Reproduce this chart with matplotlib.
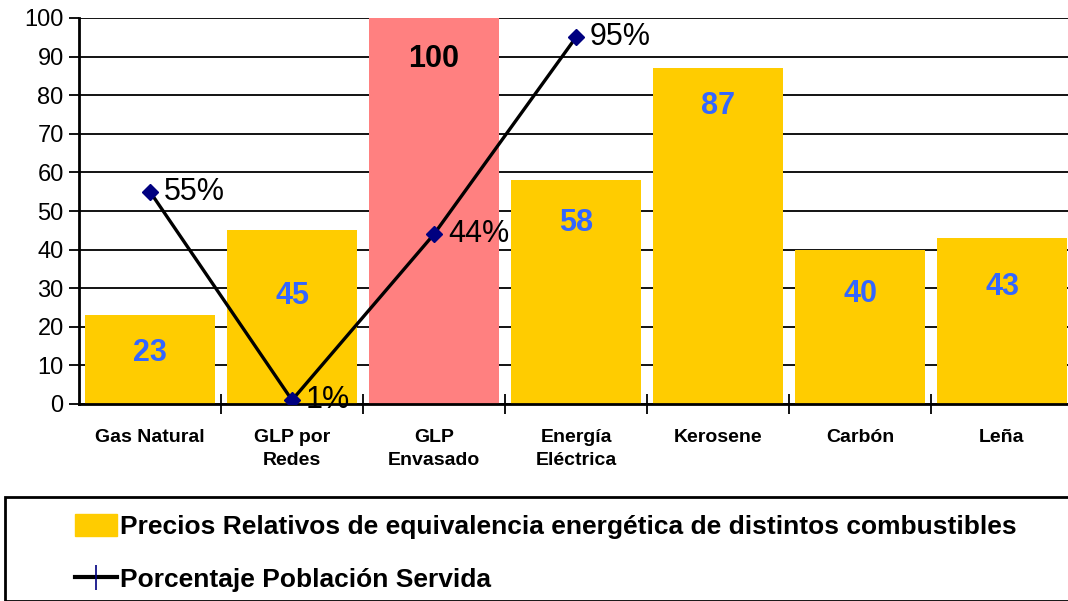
import matplotlib.pyplot as plt
from matplotlib.lines import Line2D
from matplotlib.patches import Patch, Rectangle

plt.rcParams['font.family'] = ['Liberation Sans', 'DejaVu Sans']

# categories and values
categorias = ['Gas Natural', 'GLP por\nRedes', 'GLP\nEnvasado', 'Energía\nEléctrica',
              'Kerosene', 'Carbón', 'Leña']
precios = [23, 45, 100, 58, 87, 40, 43]
poblacion = [55, 1, 44, 95]   # % poblacion servida, first four fuels only
etiqueta_precios = 'Precios Relativos de equivalencia energética de distintos combustibles'
etiqueta_poblacion = 'Porcentaje Población Servida'

# how far below each bar top the value label sits (pixels)
bajada = [38, 66, 41, 43, 38, 44, 49]

amarillo = '#FFCC00'
rosa = '#FF8080'
colores = [rosa if v == max(precios) else amarillo for v in precios]

fig = plt.figure(figsize=(10.68, 6.01), dpi=100)
ax = fig.add_axes([79 / 1068, 1 - 404 / 601, 994 / 1068, 386 / 601])

x = list(range(len(categorias)))
ax.bar(x, precios, width=0.92, color=colores, zorder=2)

for xi, v, d in zip(x, precios, bajada):
    c = 'black' if v == max(precios) else '#3366FF'
    ax.annotate(str(v), (xi, v), xytext=(0, -d), textcoords='offset pixels',
                ha='center', va='center', fontsize=22, fontweight='bold', color=c, zorder=4)

xp = x[:len(poblacion)]
ax.plot(xp, poblacion, color='black', lw=2.4, zorder=3)
ax.plot(xp, poblacion, ls='none', marker='D', ms=8, color='#000080', zorder=4)
for xi, p in zip(xp, poblacion):
    ax.annotate(f'{p}%', (xi, p), xytext=(14, 0), textcoords='offset pixels',
                ha='left', va='center', fontsize=22, zorder=5)

ax.set_xlim(-0.5, len(categorias) - 0.5)
ax.set_ylim(0, 100)
ax.set_yticks(range(0, 101, 10))
ax.yaxis.grid(True, color='black', lw=1.3, zorder=0)
ax.set_axisbelow(True)
ax.set_xticks([i + 0.5 for i in x[:-1]], minor=False)
ax.set_xticklabels([])
ax.set_xticks(x, minor=True)
ax.set_xticklabels(categorias, minor=True, fontsize=14, fontweight='bold', linespacing=1.45)
ax.tick_params(axis='x', which='minor', length=0, pad=18)
ax.tick_params(axis='x', which='major', direction='inout', length=14, width=1.3)
ax.tick_params(axis='y', direction='out', length=7, width=1.3, labelsize=17, pad=4)
for s in ['top', 'right']:
    ax.spines[s].set_visible(False)
for s in ['left', 'bottom']:
    ax.spines[s].set_linewidth(2)

# legend box across the bottom
fig.patches.append(Rectangle((5 / 1068, 0), 1.1, 1 - 497 / 601, transform=fig.transFigure,
                             fill=False, edgecolor='black', lw=2))
handles = [Patch(color=amarillo),
           Line2D([], [], color='black', lw=3, marker='|', ms=18, mec='#000080', mew=1.2)]
fig.legend(handles, [etiqueta_precios, etiqueta_poblacion], loc='upper left',
           bbox_to_anchor=(75 / 1068, 1 - 514 / 601), frameon=False, borderpad=0,
           borderaxespad=0, prop={'size': 19, 'weight': 'bold'}, handlelength=1.6,
           handleheight=0.9, handletextpad=0.12, labelspacing=1.05)

fig.savefig('out.png', dpi=100)
